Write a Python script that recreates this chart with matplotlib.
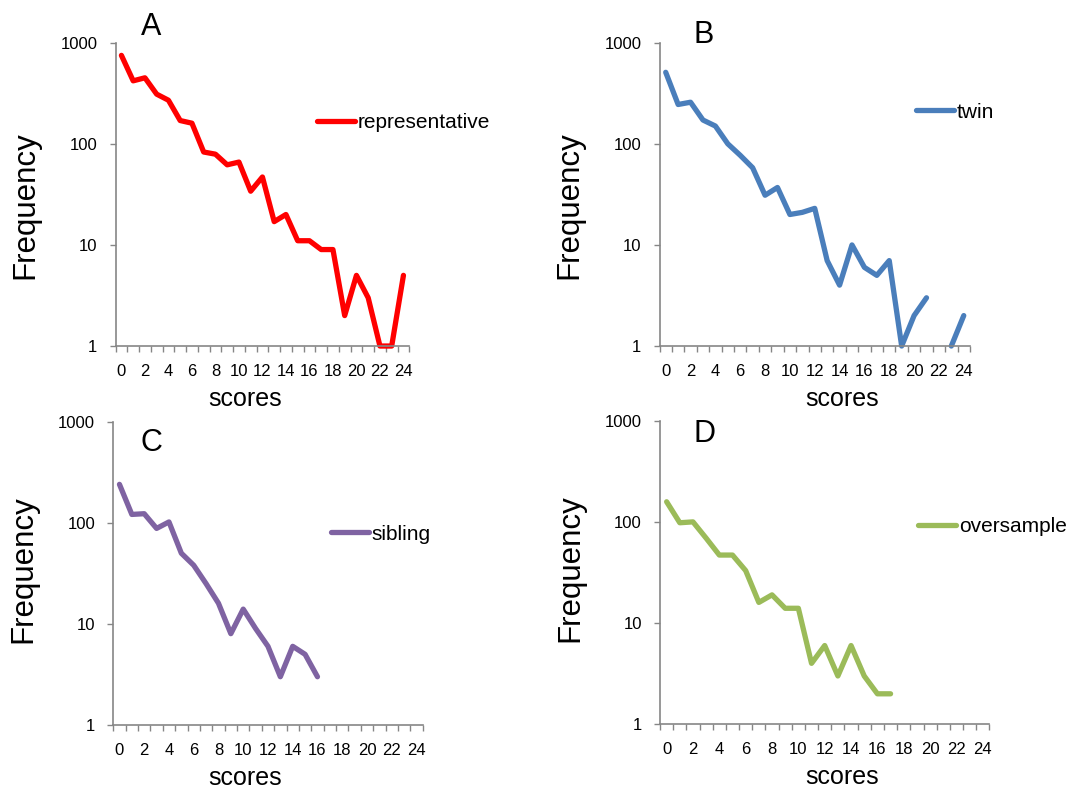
import numpy as np
import matplotlib
matplotlib.use("Agg")
import matplotlib.pyplot as plt

plt.rcParams["font.family"] = ["Liberation Sans", "DejaVu Sans"]

scores = list(range(25))

representative = [750, 420, 450, 310, 270, 170, 160, 83, 79, 62, 66, 34, 47,
                  17, 20, 11, 11, 9, 9, 2, 5, 3, 1, 1, 5]
twin = [510, 245, 258, 172, 150, 100, 77, 58, 31, 37, 20, 21, 23,
        7, 4, 10, 6, 5, 7, 1, 2, 3, np.nan, 1, 2]
sibling = [240, 121, 123, 88, 102, 50, 38, 25, 16, 8, 14, 9, 6, 3, 6, 5, 3]
oversample = [158, 98, 100, 69, 47, 47, 33, 16, 19, 14, 14, 4, 6, 3, 6, 3, 2, 2]

panels = [
    # letter, name, values, colour, axes rect, legend anchor (px), letter pos (px), xlabel x, ylabel y
    ("A", "representative", representative, "#FF0000",
     [0.1066, 0.5620, 0.2710, 0.3839], (317, 123), (151, 35), 0.441, 0.465),
    ("B", "twin", twin, "#4A7EBB",
     [0.6084, 0.5620, 0.2864, 0.3839], (916, 112), (704, 43), 0.587, 0.465),
    ("C", "sibling", sibling, "#7F63A2",
     [0.1045, 0.0823, 0.2854, 0.3839], (331, 534), (151, 451), 0.426, 0.515),
    ("D", "oversample", oversample, "#9BBB59",
     [0.6089, 0.0832, 0.3038, 0.3843], (918, 527), (705, 442), 0.552, 0.515),
]

W, H = 1084, 790
fig = plt.figure(figsize=(W / 100, H / 100), dpi=100)
grey = "#868686"

for letter, name, vals, color, rect, leg_xy, let_xy, xl_x, yl_y in panels:
    ax = fig.add_axes(rect)
    ax.plot(scores[:len(vals)], vals, color=color, lw=3.8, label=name,
            solid_joinstyle="round", solid_capstyle="round", clip_on=False)
    ax.set_yscale("log")
    ax.set_ylim(1, 1000)
    ax.set_xlim(-0.5, 24.5)

    ax.set_yticks([1, 10, 100, 1000])
    ax.set_yticklabels(["1", "10", "100", "1000"])
    ax.minorticks_off()
    ax.set_xticks(np.arange(-0.5, 25, 1))
    ax.set_xticklabels([])
    ax.set_xticks(scores[::2], minor=True)
    ax.set_xticklabels([str(s) for s in scores[::2]], minor=True)

    ax.tick_params(axis="y", which="major", direction="out", length=4,
                   width=1, color=grey, labelsize=12, pad=9)
    ax.tick_params(axis="x", which="major", direction="out", length=4,
                   width=1, color=grey)
    ax.tick_params(axis="x", which="minor", length=0, labelsize=12, pad=13)

    for side in ["top", "right"]:
        ax.spines[side].set_visible(False)
    for side in ["left", "bottom"]:
        ax.spines[side].set_color(grey)
        ax.spines[side].set_linewidth(1.2)

    ax.set_ylabel("Frequency", fontsize=22.5)
    ax.yaxis.set_label_coords(-75 / (rect[2] * W), yl_y)
    ax.set_xlabel("scores", fontsize=18, va="baseline")
    ax.xaxis.set_label_coords(xl_x, -0.197)

    ax.legend(loc="center left", bbox_to_anchor=(leg_xy[0] / W, 1 - leg_xy[1] / H),
              bbox_transform=fig.transFigure, frameon=False, fontsize=15,
              handlelength=1.8, handletextpad=0.15, borderpad=0, borderaxespad=0)

    fig.text(let_xy[0] / W, 1 - let_xy[1] / H, letter, fontsize=22,
             ha="center", va="baseline")

fig.savefig("out.png", dpi=100)
